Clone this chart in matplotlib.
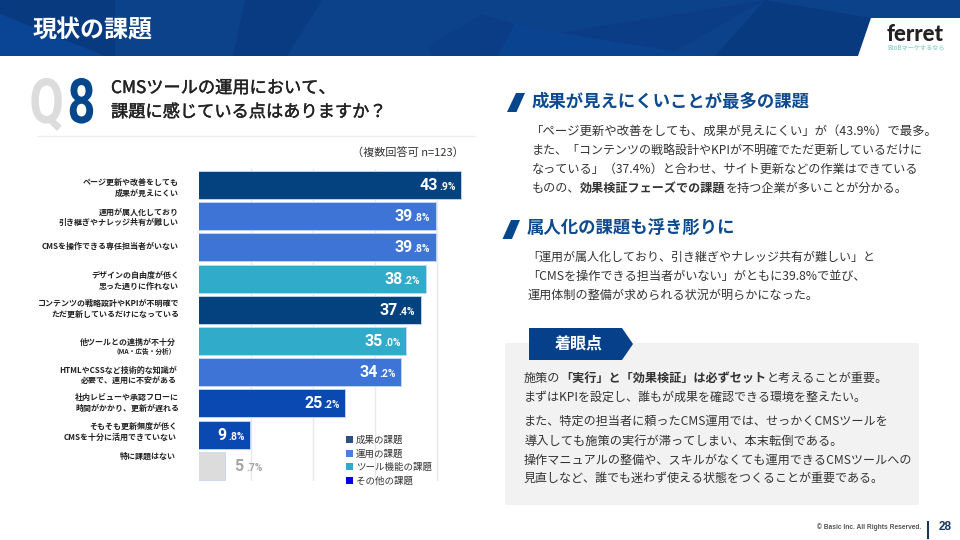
import matplotlib
matplotlib.use("Agg")
import matplotlib.pyplot as plt
from matplotlib.patches import Patch, Polygon, Rectangle
from matplotlib.patheffects import AbstractPathEffect, withStroke
from matplotlib.transforms import Affine2D

JP = ["Noto Sans CJK JP", "DejaVu Sans"]
plt.rcParams["font.family"] = JP

categories = [
    "ページ更新や改善をしても\n成果が見えにくい",
    "運用が属人化しており\n引き継ぎやナレッジ共有が難しい",
    "CMSを操作できる専任担当者がいない",
    "デザインの自由度が低く\n思った通りに作れない",
    "コンテンツの戦略設計やKPIが不明確で\nただ更新しているだけになっている",
    "他ツールとの連携が不十分",
    "HTMLやCSSなど技術的な知識が\n必要で、運用に不安がある",
    "社内レビューや承認フローに\n時間がかかり、更新が遅れる",
    "そもそも更新頻度が低く\nCMSを十分に活用できていない",
    "特に課題はない",
]
values = [43.9, 39.8, 39.8, 38.2, 37.4, 35.0, 34.2, 25.2, 9.8, 5.7]
groups = ["成果", "運用", "運用", "ツール", "成果", "ツール", "運用", "その他", "その他", "なし"]
legend_labels = ["成果の課題", "運用の課題", "ツール機能の課題", "その他の課題"]

bar_colors = {"成果": "#03427f", "運用": "#3d74d6", "ツール": "#31abca", "その他": "#0a49b2", "なし": "#dcdcdc"}
legend_colors = ["#2a4f85", "#4a7fdc", "#33a9c9", "#0000e0"]

# y centre and right edge of each category label, in slide pixels
label_y = [187.7, 217.7, 246.5, 281, 309, 342.3, 375.5, 403, 432, 456]
label_right = [179, 179, 179, 179, 179, 176, 177, 179, 177, 176]

NAVY = "#0d4a8f"
TEXT = "#333333"

fig = plt.figure(figsize=(9.6, 5.4), dpi=100)

# whole slide in pixel coordinates, for the furniture around the chart
bg = fig.add_axes([0, 0, 1, 1])
bg.set_xlim(0, 960)
bg.set_ylim(540, 0)
bg.axis("off")


class Squeeze(AbstractPathEffect):
    # narrows a text sideways around one x pixel, no condensed font is installed
    def __init__(self, x0, sx):
        super().__init__()
        self.x0 = x0
        self.sx = sx

    def draw_path(self, renderer, gc, tpath, affine, rgbFace=None):
        squeeze = Affine2D().translate(-self.x0, 0).scale(self.sx, 1).translate(self.x0, 0)
        renderer.draw_path(gc, tpath, affine + squeeze, rgbFace)


def poly(pts, color, z=1):
    bg.add_patch(Polygon(pts, closed=True, facecolor=color, edgecolor="none", zorder=z))


def label(x, y, s, size, color=TEXT, weight="normal", ha="left", family=JP):
    return bg.text(x, y, s, fontsize=size, color=color, fontweight=weight, ha=ha, va="center", family=family)


def runs(x, y, parts, size):
    # mixed regular and bold text on one line
    r = fig.canvas.get_renderer()
    for s, weight in parts:
        t = label(x, y, s, size, weight=weight)
        x += t.get_window_extent(r).width


# header
bg.add_patch(Rectangle((0, 0), 960, 56, facecolor="#0b4289", edgecolor="none"))
poly([(0, 0), (115, 0), (115, 56), (105, 56), (0, 14)], "#083a80", 2)
poly([(0, 14), (105, 56), (0, 56)], "#0a4494", 2)
poly([(245, 0), (322, 0), (287, 56), (233, 56)], "#083b82", 2)
poly([(427, 46), (480, 16), (480, 56), (432, 56)], "#0a3f88", 2)
poly([(480, 14), (515, 24), (498, 56), (480, 56)], "#0a3d86", 2)
poly([(498, 56), (515, 24), (560, 33), (675, 51), (715, 56)], "#0a4490", 2)
poly([(560, 33), (765, 0), (675, 51)], "#0a3d86", 2)
poly([(765, 0), (870, 18), (858, 56), (715, 56)], "#083a80", 2)
poly([(870.5, 18), (960, 18), (960, 56), (858, 56)], "white", 3)
label(33, 30, "現状の課題", 17.3, color="white", weight="bold")
label(887, 34.5, "ferret", 16, color="#222222", weight="black", family=["Lato", "DejaVu Sans"])
label(887, 47, "BtoBマーケするなら", 4.4, color="#9ad6d0", weight="bold")

# question block
condensed = ["Roboto", "DejaVu Sans"]
bg.text(64, 123, "Q", fontsize=45, color="#dcdcdc", fontweight="bold", family=condensed, ha="right",
        va="baseline", path_effects=[Squeeze(64, 0.8)])
bg.text(67.5, 123, "8", fontsize=45, color="#06468c", fontweight="bold", family=condensed, ha="left",
        va="baseline", path_effects=[Squeeze(67.5, 0.78)])
medium = [withStroke(linewidth=0.3, foreground="#222222")]
label(111, 88, "CMSツールの運用において、", 12.4, color="#222222").set_path_effects(medium)
label(111, 112, "課題に感じている点はありますか？", 12.4, color="#222222").set_path_effects(medium)
bg.plot([37, 475], [136, 136], color="#eeeeee", lw=1)
label(464, 152, "（複数回答可 n=123）", 8, ha="right")

# bar chart, axis origin sits left of the visible edge as in the source
px_per_unit = 6.19
x_zero = 189.3
ax_left, ax_right = 198.5, 470
ax_top, ax_bottom = 169.4, 481.4
ax = fig.add_axes([ax_left / 960, 1 - ax_bottom / 540, (ax_right - ax_left) / 960, (ax_bottom - ax_top) / 540])
ax.patch.set_alpha(0)
ax.set_xlim((ax_left - x_zero) / px_per_unit, (ax_right - x_zero) / px_per_unit)
ax.set_ylim(len(values) - 0.5, -0.5)
ax.barh(range(len(values)), values, height=0.9, color=[bar_colors[g] for g in groups],
        edgecolor="#c8d8f0", linewidth=0.6, zorder=2)
ax.set_xticks([10, 20, 30, 40])
ax.set_yticks([])
ax.tick_params(length=0, labelbottom=False)
ax.grid(axis="x", color="#e8e8ec", lw=1)
ax.set_axisbelow(True)
for side in ax.spines.values():
    side.set_visible(False)

num_font = ["Roboto", "DejaVu Sans"]
for i, v in enumerate(values):
    whole, frac = f"{v:.1f}".split(".")
    color = "white"
    small_off, big_off = -5.5, -23
    if groups[i] == "なし":
        color = "#a5a5a5"
        small_off, big_off = 38, 19
    ax.annotate("." + frac + "%", (v, i), xytext=(small_off * 0.72, -3.6), textcoords="offset points", ha="right",
                va="baseline", fontsize=7.4, color=color, fontweight="bold", family=num_font, zorder=3)
    ax.annotate(whole, (v, i), xytext=(big_off * 0.72, -3.6), textcoords="offset points", ha="right",
                va="baseline", fontsize=11.5, color=color, fontweight="bold", family=num_font, zorder=3)

for name, y, right in zip(categories, label_y, label_right):
    bg.text(right, y, name, fontsize=5.75, color="#222222", fontweight="bold", ha="right", va="center",
            linespacing=1.2, multialignment="right")
label(175.5, 351, "（MA・広告・分析）", 4.8, color="#222222", weight="bold", ha="right")

handles = [Patch(facecolor=c, edgecolor="none") for c in legend_colors]
ax.legend(handles, legend_labels, loc="lower left", bbox_to_anchor=((344 - ax_left) / (ax_right - ax_left), -0.02),
          frameon=False, fontsize=6.8, labelspacing=0.46, handlelength=0.75, handleheight=0.75,
          handletextpad=0.3, labelcolor=TEXT, borderpad=0.2, borderaxespad=0)

# right column
poly([(516, 93), (525, 93), (516.5, 112), (507, 112)], "#06468c")
label(532, 102, "成果が見えにくいことが最多の課題", 12.5, color=NAVY, weight="bold")
label(531, 131.7, "「ページ更新や改善をしても、成果が見えにくい」が（43.9%）で最多。", 8.93)
label(531.5, 150.7, "また、「コンテンツの戦略設計やKPIが不明確でただ更新しているだけに", 8.65)
label(531.5, 169.5, "なっている」（37.4%）と合わせ、サイト更新などの作業はできている", 8.76)
runs(531.5, 188, [("ものの、", "normal"), ("効果検証フェーズでの課題", "bold"),
                  ("を持つ企業が多いことが分かる。", "normal")], 8.7)

poly([(511, 220), (520, 220), (512, 239), (502.5, 239)], "#06468c")
label(527, 229, "属人化の課題も浮き彫りに", 12.5, color=NAVY, weight="bold")
label(527, 257.7, "「運用が属人化しており、引き継ぎやナレッジ共有が難しい」と", 8.65)
label(527, 276.7, "「CMSを操作できる担当者がいない」がともに39.8%で並び、", 8.78)
label(528, 295.7, "運用体制の整備が求められる状況が明らかになった。", 8.72)

bg.add_patch(Rectangle((504.7, 342.7), 414.3, 162.3, facecolor="#f2f2f2", edgecolor="none"))
poly([(529, 328), (622, 328), (633, 344), (622, 360), (529, 360)], "#07408a", 2)
label(579, 344, "着眼点", 11.5, color="white", weight="bold", ha="center")
runs(524, 378, [("施策の", "normal"), ("「実行」と「効果検証」は必ずセット", "bold"), ("と考えることが重要。", "normal")], 8.72)
label(524, 397, "まずはKPIを設定し、誰もが成果を確認できる環境を整えたい。", 8.65)
label(524, 421.7, "また、特定の担当者に頼ったCMS運用では、せっかくCMSツールを", 8.7)
label(524, 441, "導入しても施策の実行が滞ってしまい、本末転倒である。", 8.8)
label(524, 460, "操作マニュアルの整備や、スキルがなくても運用できるCMSツールへの", 8.7)
label(524, 478.3, "見直しなど、誰でも迷わず使える状態をつくることが重要である。", 8.67)

# footer
label(921.7, 527, "© Basic Inc. All Rights Reserved.", 4.75, color="#555555", weight="bold", ha="right",
      family=["Liberation Sans", "DejaVu Sans"])
bg.plot([928, 928], [521.5, 538], color="#17365f", lw=1.5)
label(938.5, 527, "28", 8.5, color="#17365f", weight="bold", family=["Liberation Sans", "DejaVu Sans"])

fig.savefig("out.png", dpi=100)
